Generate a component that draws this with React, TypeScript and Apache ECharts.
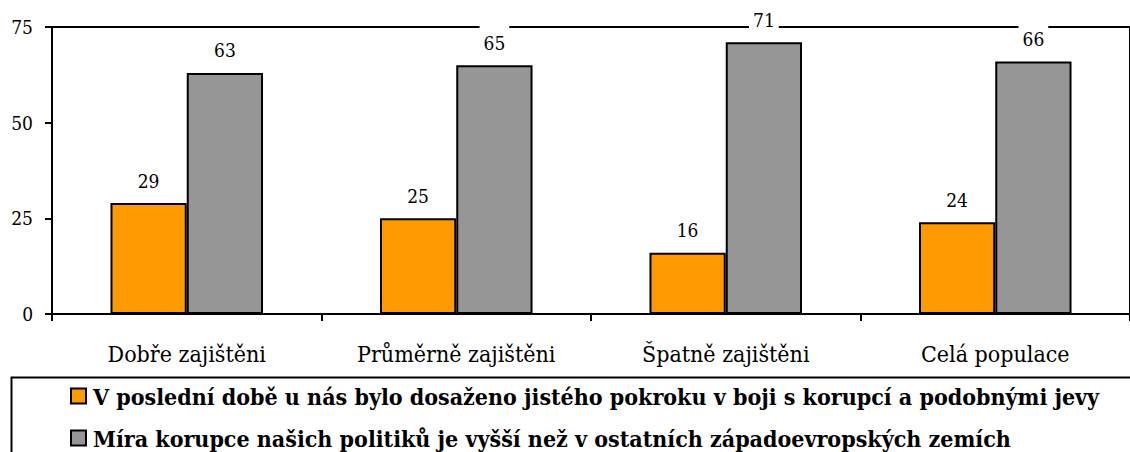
import React, { useEffect, useRef } from "react";
import * as echarts from "echarts";

const categories = ["Dobře zajištěni", "Průměrně zajištěni", "Špatně zajištěni", "Celá populace"];
const seriesNames = [
  "V poslední době u nás bylo dosaženo jistého pokroku v boji s korupcí a podobnými jevy",
  "Míra korupce našich politiků je vyšší než v ostatních západoevropských zemích",
];
const progressValues = [29, 25, 16, 24];
const corruptionValues = [63, 65, 71, 66];
const yTicks = { min: 0, max: 75, interval: 25 };

const FONT = "DejaVu Serif Condensed";

export default function App() {
  const ref = useRef<HTMLDivElement>(null);
  useEffect(() => {
    if (!ref.current) return;
    const chart = echarts.init(ref.current, undefined, { renderer: "svg" });
    const label = {
      show: true,
      position: "top" as const,
      distance: 11,
      color: "#000",
      fontFamily: FONT,
      fontSize: 19,
      backgroundColor: "#fff",
      padding: [8, 4, 2, 4],
    };
    chart.setOption({
      animation: false,
      backgroundColor: "#fff",
      textStyle: { fontFamily: FONT },
      grid: {
        left: 52,
        top: 27,
        width: 1087,
        height: 287,
        show: true,
        borderColor: "#000",
        borderWidth: 2,
        containLabel: false,
      },
      xAxis: {
        type: "category",
        data: categories,
        axisLine: { show: true, lineStyle: { color: "#000", width: 2 } },
        axisTick: { show: true, alignWithLabel: false, length: 7, lineStyle: { color: "#000", width: 2 } },
        axisLabel: { color: "#000", fontFamily: FONT, fontSize: 23, margin: 28 },
        splitLine: { show: false },
      },
      yAxis: {
        type: "value",
        min: yTicks.min,
        max: yTicks.max,
        interval: yTicks.interval,
        axisLine: { show: true, lineStyle: { color: "#000", width: 2 } },
        axisTick: { show: true, length: 7, lineStyle: { color: "#000", width: 2 } },
        axisLabel: { color: "#000", fontFamily: FONT, fontSize: 19, margin: 19 },
        splitLine: { show: false },
      },
      legend: {
        type: "plain",
        orient: "vertical",
        left: 70,
        top: 383,
        height: 120,
        padding: 0,
        itemWidth: 15,
        itemHeight: 15,
        itemGap: 16,
        icon: "rect",
        textStyle: {
          color: "#000",
          fontFamily: FONT,
          fontSize: 23,
          fontWeight: "bold",
          lineHeight: 26,
          padding: [0, 0, 0, 2],
        },
        data: seriesNames,
      },
      graphic: [
        {
          type: "rect",
          left: 9,
          top: 375,
          shape: { x: 0, y: 0, width: 1300, height: 300 },
          style: { fill: "none", stroke: "#000", lineWidth: 2 },
          silent: true,
        },
      ],
      series: [
        {
          name: seriesNames[0],
          type: "bar",
          data: progressValues,
          barWidth: "28.3%",
          barGap: "0%",
          itemStyle: { color: "#FF9900", borderColor: "#000", borderWidth: 2 },
          label,
        },
        {
          name: seriesNames[1],
          type: "bar",
          data: corruptionValues,
          barWidth: "28.3%",
          barGap: "0%",
          itemStyle: { color: "#969696", borderColor: "#000", borderWidth: 2 },
          label,
        },
      ],
    });
    return () => chart.dispose();
  }, []);
  return (
    <div
      ref={ref}
      style={{ position: "absolute", left: 0, top: 0, width: 1130, height: 452 }}
    />
  );
}
